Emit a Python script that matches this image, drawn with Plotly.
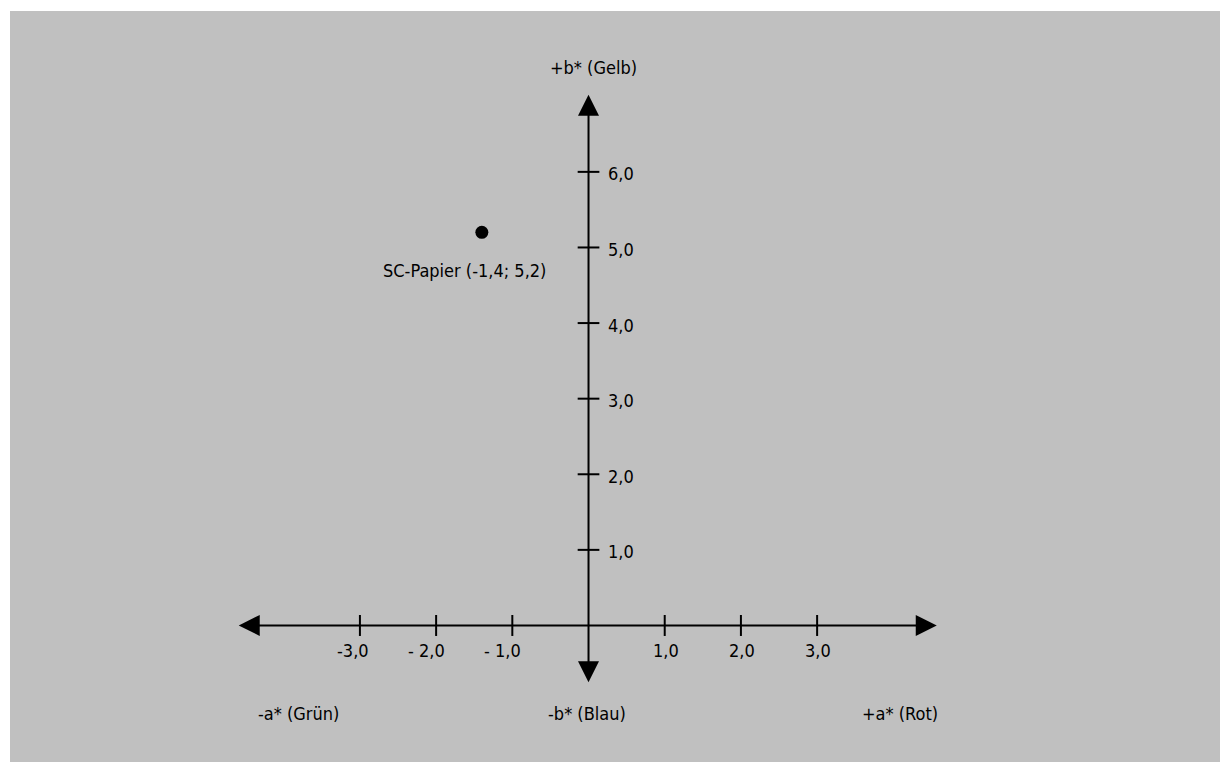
import plotly.graph_objects as go

# ---- data ----
x_tick_values = [-3, -2, -1, 1, 2, 3]
x_tick_labels = ["-3,0", "- 2,0", "- 1,0", "1,0", "2,0", "3,0"]
y_tick_values = [1, 2, 3, 4, 5, 6]
y_tick_labels = ["1,0", "2,0", "3,0", "4,0", "5,0", "6,0"]
point_a = [-1.4]
point_b = [5.2]
point_labels = ["SC-Papier (-1,4; 5,2)"]
axis_titles = ["+b* (Gelb)", "-b* (Blau)", "-a* (Grün)", "+a* (Rot)"]

# axis extents (arrow tips) in data units
x_axis_min, x_axis_max = -4.61, 4.57
y_axis_min, y_axis_max = -0.77, 7.02

FONT = "DejaVu Sans Condensed, Liberation Sans Narrow, Arial Narrow, sans-serif"
FS = 18
BLACK = "#000000"
GRAY = "#c0c0c0"

fig = go.Figure()

# tick marks
fig.add_trace(go.Scatter(
    x=x_tick_values, y=[0] * len(x_tick_values), mode="markers",
    marker=dict(symbol="line-ns", size=15, line=dict(width=2, color=BLACK), color=BLACK),
    hoverinfo="skip", showlegend=False))
fig.add_trace(go.Scatter(
    x=[0] * len(y_tick_values), y=y_tick_values, mode="markers",
    marker=dict(symbol="line-ew", size=15.5, line=dict(width=2, color=BLACK), color=BLACK),
    hoverinfo="skip", showlegend=False))

# data point
fig.add_trace(go.Scatter(
    x=point_a, y=point_b, mode="markers",
    marker=dict(size=13, color=BLACK), showlegend=False))

annotations = []
# axes with arrowheads on both ends
annotations.append(dict(
    x=x_axis_max, y=0, ax=x_axis_min, ay=0, xref="x", yref="y", axref="x", ayref="y",
    text="", showarrow=True, arrowhead=2, startarrowhead=2, arrowside="end+start",
    arrowsize=2.1, startarrowsize=2.1, arrowwidth=2, arrowcolor=BLACK, standoff=0, startstandoff=0))
annotations.append(dict(
    x=0, y=y_axis_max, ax=0, ay=y_axis_min, xref="x", yref="y", axref="x", ayref="y",
    text="", showarrow=True, arrowhead=2, startarrowhead=2, arrowside="end+start",
    arrowsize=2.1, startarrowsize=2.1, arrowwidth=2, arrowcolor=BLACK, standoff=0, startstandoff=0))

# x tick labels
for v, t in zip(x_tick_values, x_tick_labels):
    if v < 0:
        annotations.append(dict(x=v, y=0, xref="x", yref="y", text=t, showarrow=False,
                                xanchor="right", yanchor="middle", xshift=11, yshift=-25,
                                font=dict(family=FONT, size=FS, color=BLACK)))
    else:
        annotations.append(dict(x=v, y=0, xref="x", yref="y", text=t, showarrow=False,
                                xanchor="center", yanchor="middle", xshift=1, yshift=-25,
                                font=dict(family=FONT, size=FS, color=BLACK)))
# y tick labels
for v, t in zip(y_tick_values, y_tick_labels):
    annotations.append(dict(x=0, y=v, xref="x", yref="y", text=t, showarrow=False,
                            xanchor="left", yanchor="middle", xshift=17, yshift=-2,
                            font=dict(family=FONT, size=FS, color=BLACK)))

# point label
for a, b, t in zip(point_a, point_b, point_labels):
    annotations.append(dict(x=a, y=b, xref="x", yref="y", text=t, showarrow=False,
                            xanchor="center", yanchor="middle", xshift=-17, yshift=-38,
                            font=dict(family=FONT, size=FS, color=BLACK)))

# axis titles
title_pos = [(0.06, 7.38), (-0.02, -1.17), (-3.80, -1.17), (4.09, -1.17)]
for (tx, ty), t in zip(title_pos, axis_titles):
    annotations.append(dict(x=tx, y=ty, xref="x", yref="y", text=t, showarrow=False,
                            xanchor="center", yanchor="middle",
                            font=dict(family=FONT, size=FS, color=BLACK)))

fig.update_layout(
    width=1220, height=762,
    margin=dict(l=10, r=0, t=11, b=0, pad=0),
    paper_bgcolor="white", plot_bgcolor=GRAY,
    annotations=annotations,
    hovermode=False,
    xaxis=dict(range=[-7.592, 8.287], showgrid=False, zeroline=False, showticklabels=False,
               showline=False, ticks="", fixedrange=True),
    yaxis=dict(range=[-1.806, 8.128], showgrid=False, zeroline=False, showticklabels=False,
               showline=False, ticks="", fixedrange=True),
    showlegend=False,
)

fig.write_html("out.html",
               config={"displayModeBar": False, "staticPlot": True},
               post_script="document.body.style.margin='0';document.body.style.overflow='hidden';")
